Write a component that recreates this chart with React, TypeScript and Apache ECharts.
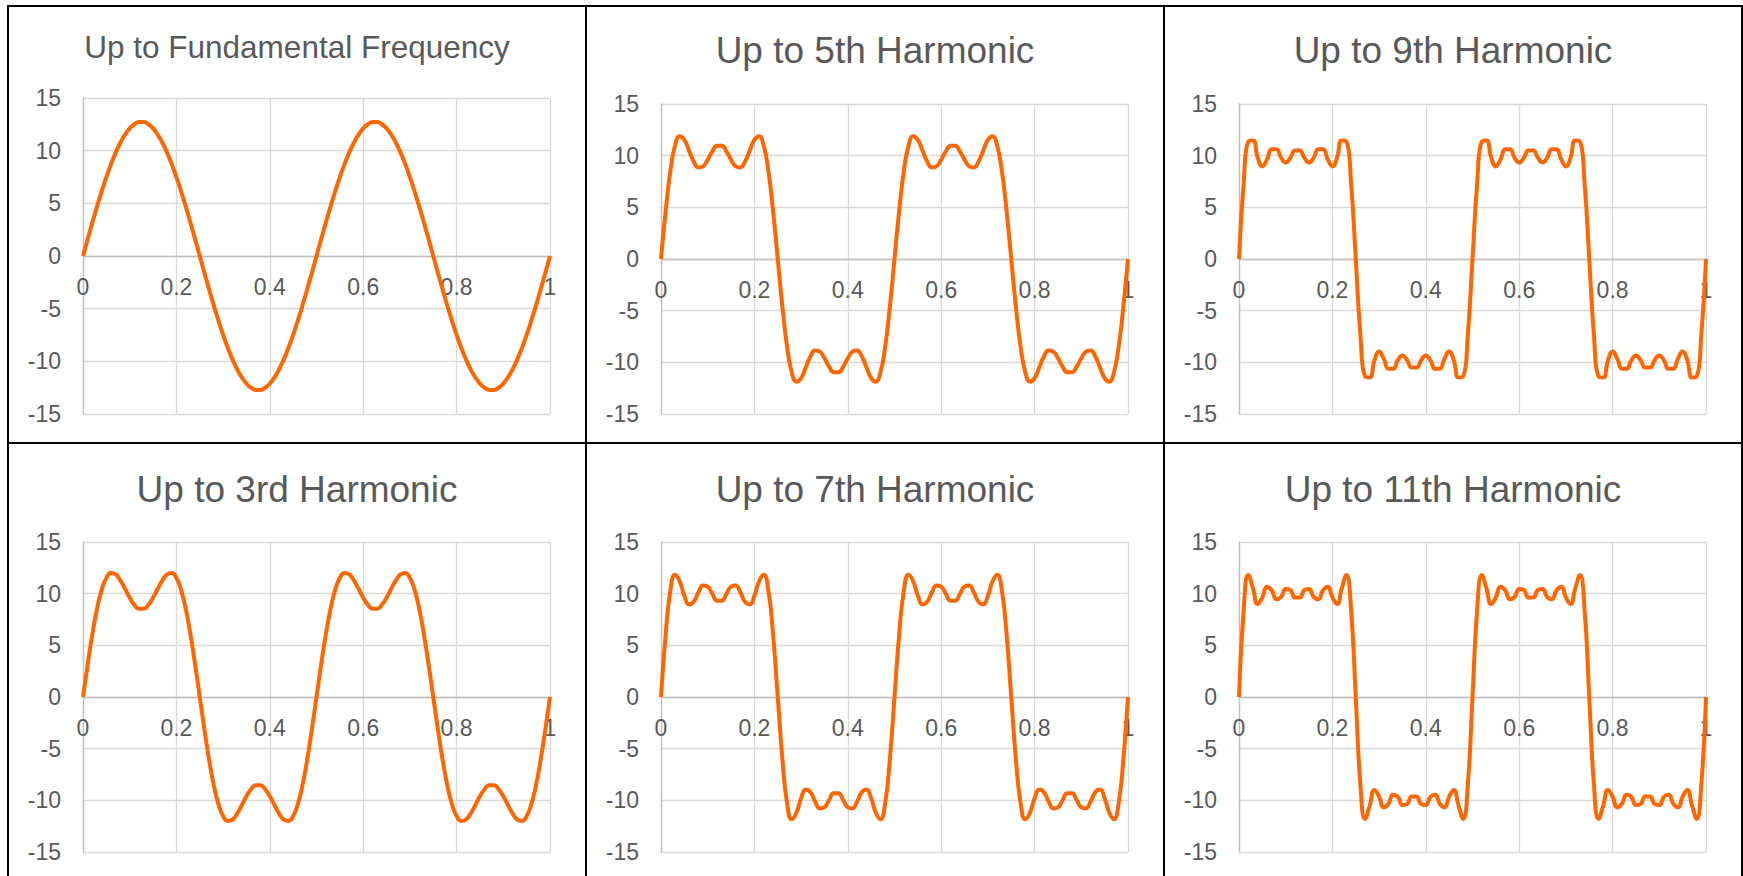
import React, { useEffect, useRef } from "react";
import * as echarts from "echarts";

// x positions (shared by every panel)
const xs = [
  0, 0.01, 0.02, 0.03, 0.04, 0.05, 0.06, 0.07, 0.08, 0.09, 0.1, 0.11, 0.12, 0.13, 0.14, 0.15, 0.16, 0.17, 0.18, 0.19, 0.2,
  0.21, 0.22, 0.23, 0.24, 0.25, 0.26, 0.27, 0.28, 0.29, 0.3, 0.31, 0.32, 0.33, 0.34, 0.35, 0.36, 0.37, 0.38, 0.39, 0.4,
  0.41, 0.42, 0.43, 0.44, 0.45, 0.46, 0.47, 0.48, 0.49, 0.5, 0.51, 0.52, 0.53, 0.54, 0.55, 0.56, 0.57, 0.58, 0.59, 0.6,
  0.61, 0.62, 0.63, 0.64, 0.65, 0.66, 0.67, 0.68, 0.69, 0.7, 0.71, 0.72, 0.73, 0.74, 0.75, 0.76, 0.77, 0.78, 0.79, 0.8,
  0.81, 0.82, 0.83, 0.84, 0.85, 0.86, 0.87, 0.88, 0.89, 0.9, 0.91, 0.92, 0.93, 0.94, 0.95, 0.96, 0.97, 0.98, 0.99, 1,
];

const fundamental = [
  0, 1.6, 3.17, 4.69, 6.13, 7.48, 8.72, 9.81, 10.75, 11.52, 12.11, 12.51, 12.71, 12.71, 12.51, 12.11, 11.52, 10.75, 9.81, 8.72, 7.48, 6.13, 4.69, 3.17, 1.6, 0,
  -1.6, -3.17, -4.69, -6.13, -7.48, -8.72, -9.81, -10.75, -11.52, -12.11, -12.51, -12.71, -12.71, -12.51, -12.11, -11.52, -10.75, -9.81, -8.72, -7.48, -6.13, -4.69, -3.17, -1.6, 0,
  1.6, 3.17, 4.69, 6.13, 7.48, 8.72, 9.81, 10.75, 11.52, 12.11, 12.51, 12.71, 12.71, 12.51, 12.11, 11.52, 10.75, 9.81, 8.72, 7.48, 6.13, 4.69, 3.17, 1.6, 0,
  -1.6, -3.17, -4.69, -6.13, -7.48, -8.72, -9.81, -10.75, -11.52, -12.11, -12.51, -12.71, -12.71, -12.51, -12.11, -11.52, -10.75, -9.81, -8.72, -7.48, -6.13, -4.69, -3.17, -1.6, 0,
];

const harmonic3 = [
  0, 3.16, 6.07, 8.53, 10.37, 11.52, 11.99, 11.86, 11.28, 10.47, 9.61, 8.92, 8.54, 8.54, 8.92, 9.61, 10.47, 11.28, 11.86, 11.99, 11.52, 10.37, 8.53, 6.07, 3.16, 0,
  -3.16, -6.07, -8.53, -10.37, -11.52, -11.99, -11.86, -11.28, -10.47, -9.61, -8.92, -8.54, -8.54, -8.92, -9.61, -10.47, -11.28, -11.86, -11.99, -11.52, -10.37, -8.53, -6.07, -3.16, 0,
  3.16, 6.07, 8.53, 10.37, 11.52, 11.99, 11.86, 11.28, 10.47, 9.61, 8.92, 8.54, 8.54, 8.92, 9.61, 10.47, 11.28, 11.86, 11.99, 11.52, 10.37, 8.53, 6.07, 3.16, 0,
  -3.16, -6.07, -8.53, -10.37, -11.52, -11.99, -11.86, -11.28, -10.47, -9.61, -8.92, -8.54, -8.54, -8.92, -9.61, -10.47, -11.28, -11.86, -11.99, -11.52, -10.37, -8.53, -6.07, -3.16, 0,
];

const harmonic5 = [
  0, 4.65, 8.49, 10.95, 11.87, 11.52, 10.49, 9.43, 8.86, 8.97, 9.61, 10.42, 10.96, 10.96, 10.42, 9.61, 8.97, 8.86, 9.43, 10.49, 11.52, 11.87, 10.95, 8.49, 4.65, 0,
  -4.65, -8.49, -10.95, -11.87, -11.52, -10.49, -9.43, -8.86, -8.97, -9.61, -10.42, -10.96, -10.96, -10.42, -9.61, -8.97, -8.86, -9.43, -10.49, -11.52, -11.87, -10.95, -8.49, -4.65, 0,
  4.65, 8.49, 10.95, 11.87, 11.52, 10.49, 9.43, 8.86, 8.97, 9.61, 10.42, 10.96, 10.96, 10.42, 9.61, 8.97, 8.86, 9.43, 10.49, 11.52, 11.87, 10.95, 8.49, 4.65, 0,
  -4.65, -8.49, -10.95, -11.87, -11.52, -10.49, -9.43, -8.86, -8.97, -9.61, -10.42, -10.96, -10.96, -10.42, -9.61, -8.97, -8.86, -9.43, -10.49, -11.52, -11.87, -10.95, -8.49, -4.65, 0,
];

const harmonic7 = [
  0, 6.06, 10.28, 11.83, 11.2, 9.79, 8.95, 9.21, 10.11, 10.78, 10.68, 9.97, 9.31, 9.31, 9.97, 10.68, 10.78, 10.11, 9.21, 8.95, 9.79, 11.2, 11.83, 10.28, 6.06, 0,
  -6.06, -10.28, -11.83, -11.2, -9.79, -8.95, -9.21, -10.11, -10.78, -10.68, -9.97, -9.31, -9.31, -9.97, -10.68, -10.78, -10.11, -9.21, -8.95, -9.79, -11.2, -11.83, -10.28, -6.06, 0,
  6.06, 10.28, 11.83, 11.2, 9.79, 8.95, 9.21, 10.11, 10.78, 10.68, 9.97, 9.31, 9.31, 9.97, 10.68, 10.78, 10.11, 9.21, 8.95, 9.79, 11.2, 11.83, 10.28, 6.06, 0,
  -6.06, -10.28, -11.83, -11.2, -9.79, -8.95, -9.21, -10.11, -10.78, -10.68, -9.97, -9.31, -9.31, -9.97, -10.68, -10.78, -10.11, -9.21, -8.95, -9.79, -11.2, -11.83, -10.28, -6.06, 0,
];

const harmonic9 = [
  0, 7.34, 11.37, 11.47, 9.81, 8.96, 9.64, 10.62, 10.63, 9.82, 9.34, 9.79, 10.51, 10.51, 9.79, 9.34, 9.82, 10.63, 10.62, 9.64, 8.96, 9.81, 11.47, 11.37, 7.34, 0,
  -7.34, -11.37, -11.47, -9.81, -8.96, -9.64, -10.62, -10.63, -9.82, -9.34, -9.79, -10.51, -10.51, -9.79, -9.34, -9.82, -10.63, -10.62, -9.64, -8.96, -9.81, -11.47, -11.37, -7.34, 0,
  7.34, 11.37, 11.47, 9.81, 8.96, 9.64, 10.62, 10.63, 9.82, 9.34, 9.79, 10.51, 10.51, 9.79, 9.34, 9.82, 10.63, 10.62, 9.64, 8.96, 9.81, 11.47, 11.37, 7.34, 0,
  -7.34, -11.37, -11.47, -9.81, -8.96, -9.64, -10.62, -10.63, -9.82, -9.34, -9.79, -10.51, -10.51, -9.79, -9.34, -9.82, -10.63, -10.62, -9.64, -8.96, -9.81, -11.47, -11.37, -7.34, 0,
];

const harmonic11 = [
  0, 8.47, 11.8, 10.5, 9.01, 9.64, 10.68, 10.33, 9.47, 9.67, 10.44, 10.35, 9.62, 9.62, 10.35, 10.44, 9.67, 9.47, 10.33, 10.68, 9.64, 9.01, 10.5, 11.8, 8.47, 0,
  -8.47, -11.8, -10.5, -9.01, -9.64, -10.68, -10.33, -9.47, -9.67, -10.44, -10.35, -9.62, -9.62, -10.35, -10.44, -9.67, -9.47, -10.33, -10.68, -9.64, -9.01, -10.5, -11.8, -8.47, 0,
  8.47, 11.8, 10.5, 9.01, 9.64, 10.68, 10.33, 9.47, 9.67, 10.44, 10.35, 9.62, 9.62, 10.35, 10.44, 9.67, 9.47, 10.33, 10.68, 9.64, 9.01, 10.5, 11.8, 8.47, 0,
  -8.47, -11.8, -10.5, -9.01, -9.64, -10.68, -10.33, -9.47, -9.67, -10.44, -10.35, -9.62, -9.62, -10.35, -10.44, -9.67, -9.47, -10.33, -10.68, -9.64, -9.01, -10.5, -11.8, -8.47, 0,
];

const titles = [
  "Up to Fundamental Frequency",
  "Up to 5th Harmonic",
  "Up to 9th Harmonic",
  "Up to 3rd Harmonic",
  "Up to 7th Harmonic",
  "Up to 11th Harmonic",
];
const seriesValues = [fundamental, harmonic5, harmonic9, harmonic3, harmonic7, harmonic11];

// layout (pixels)
const grids = [
  { left: 83, top: 98, width: 467, height: 316 },
  { left: 661, top: 104, width: 467, height: 310 },
  { left: 1239, top: 104, width: 467, height: 310 },
  { left: 83, top: 542, width: 467, height: 310 },
  { left: 661, top: 542, width: 467, height: 310 },
  { left: 1239, top: 542, width: 467, height: 310 },
];
const titlePos = [
  { x: 297, y: 46.7, size: 31.5 },
  { x: 875, y: 50.5, size: 37 },
  { x: 1453, y: 50.5, size: 37 },
  { x: 297, y: 489.5, size: 37 },
  { x: 875, y: 489.5, size: 37 },
  { x: 1453, y: 489.5, size: 37 },
];

const FONT = "'Liberation Sans', Arial, sans-serif";
const TEXT = "#595959";
const GRIDC = "#D9D9D9";
const AXISC = "#BFBFBF";
const LINEC = "#FF6600";

export default function App() {
  const ref = useRef<HTMLDivElement>(null);
  useEffect(() => {
    if (!ref.current) return;
    const chart = echarts.init(ref.current, undefined, { renderer: "svg" });
    const borderLines = [
      [7, 6, 1743, 6],
      [7, 443, 1743, 443],
      [8, 5, 8, 876],
      [586, 5, 586, 876],
      [1164, 5, 1164, 876],
      [1742, 5, 1742, 876],
    ].map(([x1, y1, x2, y2]) => ({
      type: "line",
      silent: true,
      z: 100,
      shape: { x1, y1, x2, y2 },
      style: { stroke: "#000000", lineWidth: 2 },
    }));
    const titleTexts = titles.map((t, i) => ({
      type: "text",
      silent: true,
      x: titlePos[i].x,
      y: titlePos[i].y,
      style: {
        text: t,
        fill: TEXT,
        fontSize: titlePos[i].size,
        fontFamily: FONT,
        align: "center",
        verticalAlign: "middle",
        textAlign: "center",
        textVerticalAlign: "middle",
      },
    }));
    const option: any = {
      animation: false,
      backgroundColor: "#ffffff",
      grid: grids.map((g) => ({ ...g, containLabel: false })),
      xAxis: grids.map((g, i) => ({
        gridIndex: i,
        type: "value",
        position: "bottom",
        // place the x axis (line and labels) on the y = 0 line, as in the reference
        offset: -g.height / 2,
        min: 0,
        max: 1,
        interval: 0.2,
        axisLine: { show: true, onZero: false, lineStyle: { color: AXISC, width: 1.3 } },
        axisTick: { show: false },
        axisLabel: { color: TEXT, fontSize: 23, fontFamily: FONT, margin: 19, showMinLabel: true, showMaxLabel: true },
        splitLine: { show: true, lineStyle: { color: GRIDC, width: 1.3 } },
      })),
      yAxis: grids.map((_, i) => ({
        gridIndex: i,
        type: "value",
        min: -15,
        max: 15,
        interval: 5,
        axisLine: { show: true, onZero: false, lineStyle: { color: AXISC, width: 1.3 } },
        axisTick: { show: false },
        axisLabel: { color: TEXT, fontSize: 23, fontFamily: FONT, margin: 22 },
        splitLine: { show: true, lineStyle: { color: GRIDC, width: 1.3 } },
      })),
      series: seriesValues.map((vals, i) => ({
        type: "line",
        name: titles[i],
        xAxisIndex: i,
        yAxisIndex: i,
        z: 3,
        data: xs.map((x, j) => [x, vals[j]]),
        showSymbol: false,
        smooth: 0.5,
        lineStyle: { color: LINEC, width: 4 },
        itemStyle: { color: LINEC },
      })),
      graphic: { elements: [...titleTexts, ...borderLines] },
    };
    chart.setOption(option);
    return () => chart.dispose();
  }, []);
  return (
    <div
      ref={ref}
      style={{ position: "absolute", left: 0, top: 0, width: 1743, height: 876, background: "#ffffff" }}
    />
  );
}
